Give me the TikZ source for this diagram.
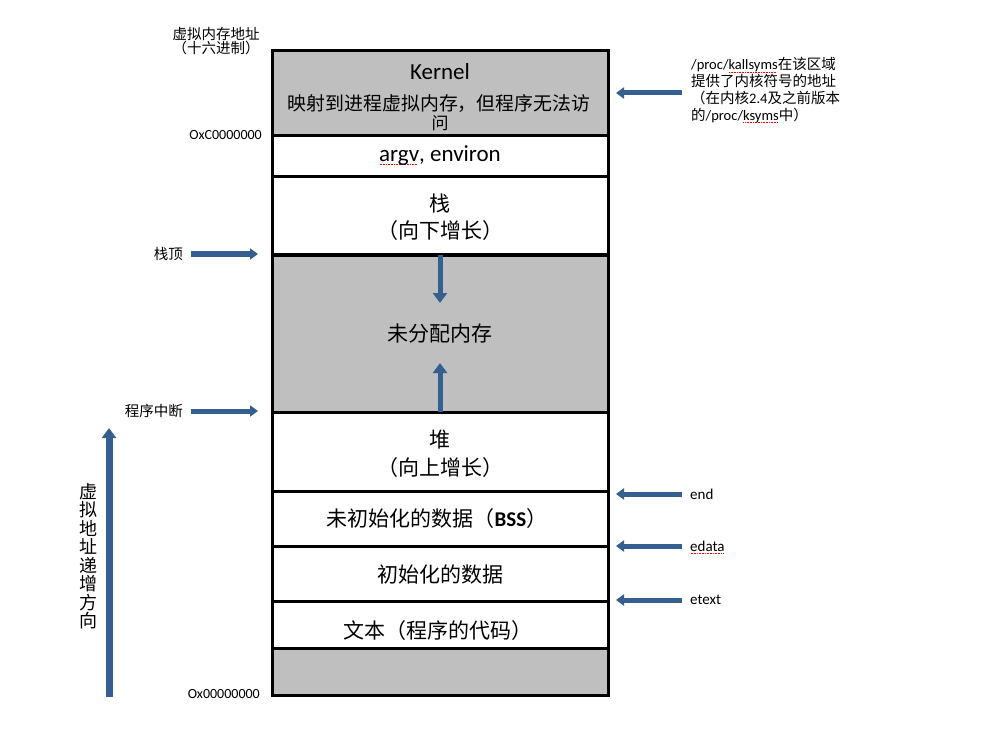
\documentclass[tikz,border=0pt]{standalone}
\usepackage{fontspec}
\setmainfont{Carlito}
\newfontfamily\cjk{Noto Sans CJK SC}
\usetikzlibrary{arrows.meta,calc}
\definecolor{arrowblue}{RGB}{54,95,145}
\definecolor{seggray}{RGB}{191,191,191}
\newsavebox\spellbox
\newcommand\spellmark[1]{\sbox\spellbox{#1}\rlap{\raisebox{-2.5pt}[0pt][0pt]{\hbox to \wd\spellbox{\color{red}\leaders\hbox to 1.6pt{\hss\rule{0.9pt}{0.7pt}\hss}\hfill}}}\usebox\spellbox}
\begin{document}
\begin{tikzpicture}[x=1pt,y=-1pt,
  seg/.style={draw=black,line width=3pt,minimum width=336pt,inner sep=0pt,outer sep=0pt},
  grayseg/.style={seg,fill=seggray},
  whiteseg/.style={seg,fill=white},
  biglbl/.style={inner sep=0pt,font=\cjk\fontsize{21}{27}\selectfont,align=center},
  smalllbl/.style={inner sep=0pt,font=\cjk\fontsize{14.5}{16.7}\selectfont},
  latinlbl/.style={inner sep=0pt,font=\fontsize{15}{17}\selectfont},
  addr/.style={inner sep=0pt,font=\fontsize{14}{16}\selectfont,anchor=east},
  barrow/.style={draw=arrowblue,line width=5pt,-{Triangle[width=11pt,length=8pt]}},
  inarrow/.style={draw=arrowblue,line width=5pt,-{Triangle[width=14pt,length=10pt]}},
  ]
\fill[white] (0,0) rectangle (989,733);
\useasboundingbox (0,0) rectangle (989,733);

% memory segments
\node[grayseg,minimum height=85pt] (kernel) at (440,93.5) {};
\node[whiteseg,minimum height=41pt] (argv) at (440,156.5) {};
\node[whiteseg,minimum height=78pt] (stack) at (440,216) {};
\node[grayseg,minimum height=157pt] (unalloc) at (440,333.5) {};
\node[whiteseg,minimum height=79pt] (heap) at (440,451.5) {};
\node[whiteseg,minimum height=55pt] (bss) at (440,518.5) {};
\node[whiteseg,minimum height=55pt] (data) at (440,573.5) {};
\node[whiteseg,minimum height=47pt] (text) at (440,624.5) {};
\node[grayseg,minimum height=47pt] (bottom) at (440,671.5) {};

% segment labels
\node[inner sep=0pt,anchor=base,font=\fontsize{23}{27}\selectfont] (kerneltitle) at (440,80) {Kernel};
\node[biglbl,font=\cjk\fontsize{18.9}{22}\selectfont] (kernelnote) at (439,104) {映射到进程虚拟内存，但程序无法访};
\node[biglbl,font=\cjk\fontsize{17}{20}\selectfont] (kernelnote2) at (440,123.5) {问};
\node[inner sep=0pt,anchor=base,font=\fontsize{23}{27}\selectfont] (argvlbl) at (440,162) {\spellmark{argv}, environ};
\node[biglbl] (stacklbl) at (440,217) {栈\\（向下增长）};
\node[biglbl] (unalloclbl) at (440,334) {未分配内存};
\node[biglbl,font=\cjk\fontsize{21}{28}\selectfont] (heaplbl) at (440,453.5) {堆\\（向上增长）};
\node[biglbl] (bsslbl) at (437,519) {未初始化的数据（{\rmfamily\bfseries BSS}）};
\node[biglbl] (datalbl) at (440,575) {初始化的数据};
\node[biglbl] (textlbl) at (438,631) {文本（程序的代码）};

% growth arrows inside the free area
\coordinate (stackgrow) at (440,303);
\coordinate (heapgrow) at (440,363);
\draw[inarrow] (unalloc.north) -- (stackgrow);
\draw[inarrow] (unalloc.south) -- (heapgrow);

% left side
\node[smalllbl,align=center,font=\cjk\fontsize{14.5}{14}\selectfont] (addrtitle) at (216,41) {虚拟内存地址\\（十六进制）};
\node[addr] (addrtop) at (262,135) {OxC0000000};
\node[addr] (addrbot) at (260,694) {Ox00000000};
\node[smalllbl,anchor=east] (stacktop) at (183,254) {栈顶};
\node[smalllbl,anchor=east] (brk) at (183,411) {程序中断};
\draw[barrow] ($(stacktop.east)+(8,0)$) -- ($(stacktop.east -| unalloc.west)+(-14,0)$);
\draw[barrow] ($(brk.east)+(8,0)$) -- ($(brk.east -| heap.west)+(-14,0)$);

\node[inner sep=0pt,align=center,font=\cjk\fontsize{18}{18.5}\selectfont] (dirlbl) at (88.5,556) {虚\\拟\\地\\址\\递\\增\\方\\向};
\coordinate (dirbot) at (109,697);
\coordinate (dirtop) at (109,428);
\draw[draw=arrowblue,line width=7pt,-{Triangle[width=14pt,length=10pt]}] (dirbot) -- (dirtop);

% right side
\node[smalllbl,anchor=west,align=left] (kallsyms) at (691,90) {{\rmfamily /proc/\spellmark{kallsyms}}在该区域\\提供了内核符号的地址\\（在内核{\rmfamily 2.4}及之前版本\\的{\rmfamily /proc/\spellmark{ksyms}}中）};
\coordinate (kalstart) at (682,93);
\draw[barrow] (kalstart) -- ($(kalstart -| kernel.east)+(8,0)$);

\node[latinlbl,anchor=west] (endlbl) at (690,494) {end};
\node[latinlbl,anchor=west] (edatalbl) at (690,546) {\spellmark{edata}};
\node[latinlbl,anchor=west] (etextlbl) at (690,600) {etext};
\draw[barrow] ($(endlbl.west)+(-8,0)$) -- ($(endlbl.west -| bss.east)+(8,0)$);
\draw[barrow] ($(edatalbl.west)+(-8,0)$) -- ($(edatalbl.west -| data.east)+(8,0)$);
\draw[barrow] ($(etextlbl.west)+(-8,0)$) -- ($(etextlbl.west -| text.east)+(8,0)$);
\end{tikzpicture}
\end{document}
